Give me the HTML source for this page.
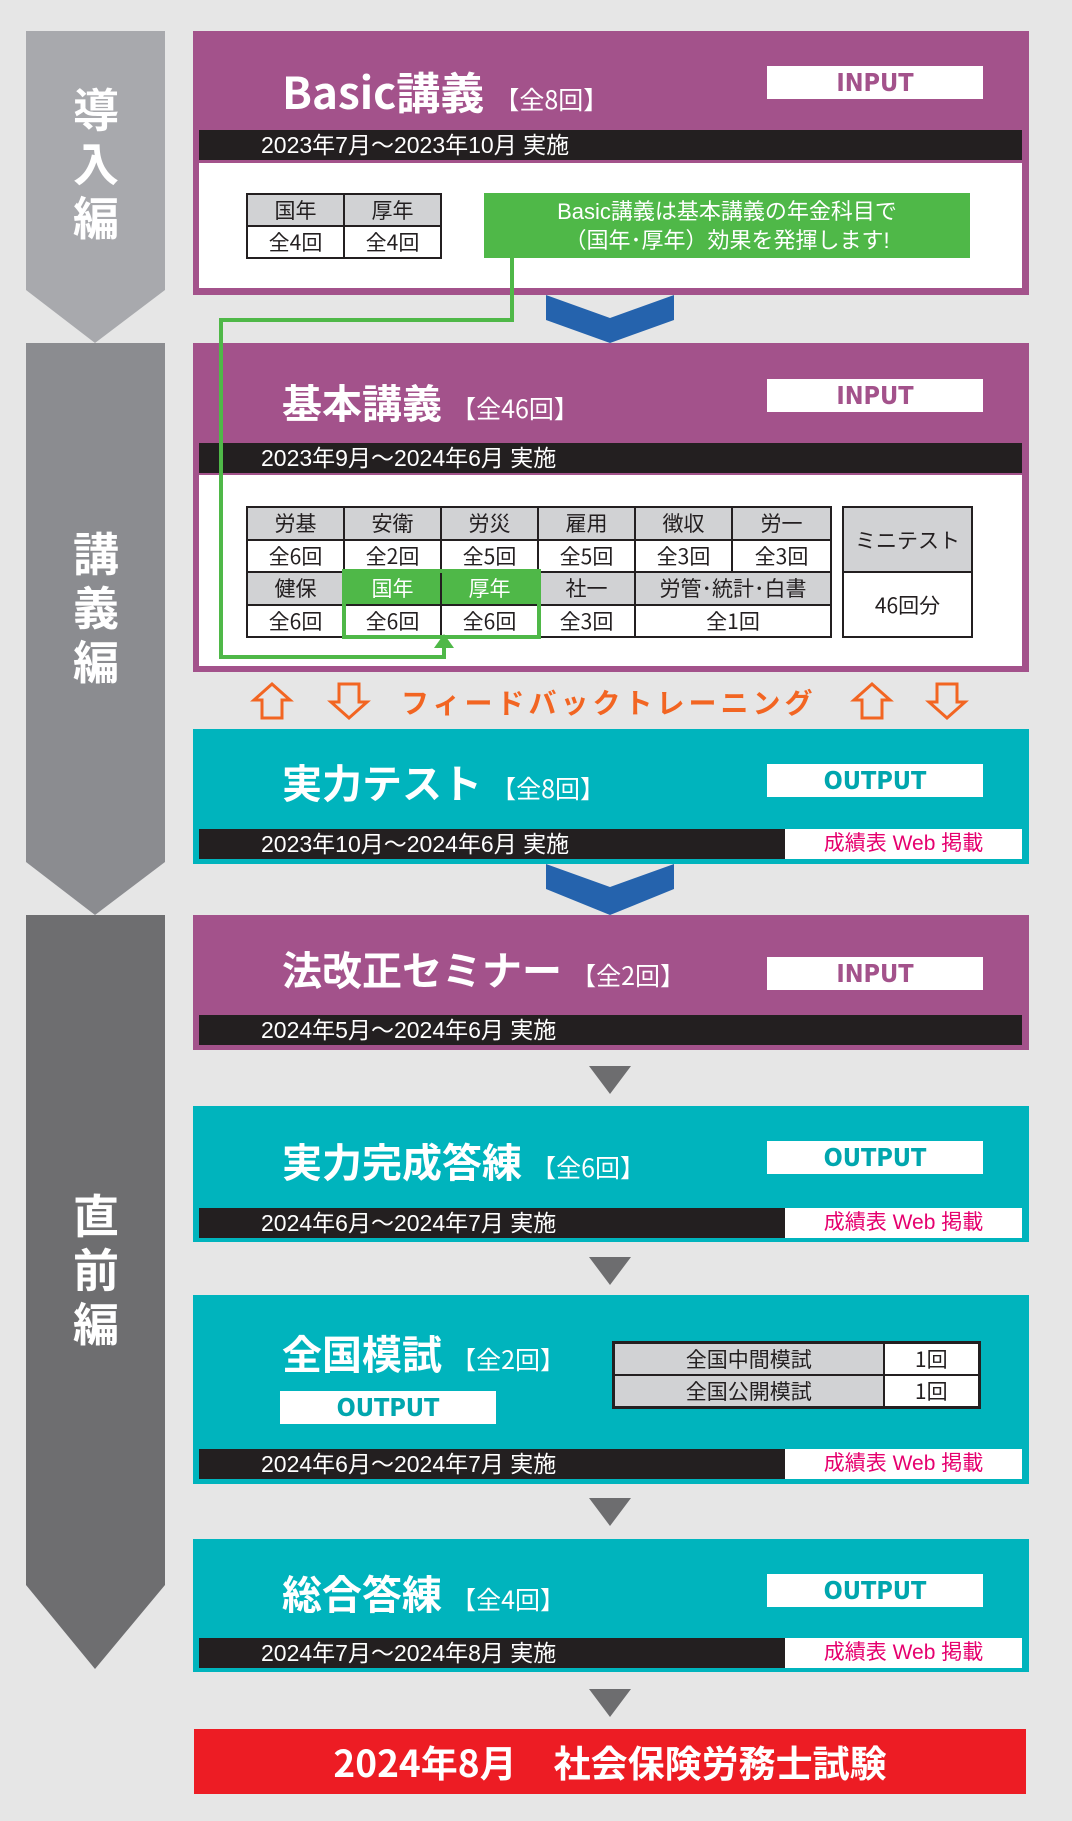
<!DOCTYPE html>
<html><head><meta charset="utf-8"><style>
*{margin:0;padding:0;box-sizing:border-box}
body{width:1072px;height:1821px;background:#e6e6e6;position:relative;overflow:hidden;font-family:"Liberation Sans","Noto Sans CJK JP",sans-serif}
.a{position:absolute}
.box{position:absolute;left:193px;width:836px}
.pur{background:#a3528b}.teal{background:#00b4bd}
.band{position:absolute;left:199px;height:30px;background:#231f20;color:#fff;font-size:23px;line-height:30px;padding-left:62px;white-space:nowrap}
.web{position:absolute;left:785px;width:237px;height:30px;background:#fff;color:#e6006e;font-size:21px;line-height:30px;text-align:center}
.tag{position:absolute;width:216px;height:33px;background:#fff;font-family:"DejaVu Sans Condensed","Liberation Sans",sans-serif;font-weight:bold;font-size:25px;line-height:33px;text-align:center}
.tin{color:#a3528b}.tout{color:#00a6ae}
.title{position:absolute;left:282px;color:#fff;font-weight:bold;font-size:40px;white-space:nowrap;font-family:"Noto Sans CJK JP",sans-serif}
.title small{font-size:25px;font-weight:normal}
.side{position:absolute;left:70px;width:52px;color:#fff;font-weight:bold;font-size:46px;text-align:center;line-height:54px;font-family:"Noto Sans CJK JP",sans-serif}
table{border-collapse:collapse;position:absolute;font-family:"Noto Sans CJK JP",sans-serif;font-size:21px;color:#231f20;table-layout:fixed}
td{border:2px solid #231f20;text-align:center;padding:0}
.g{background:#d1d2d4}
.tri{position:absolute;left:589px;width:0;height:0;border-left:21px solid transparent;border-right:21px solid transparent;border-top:28px solid #6d6d6f}
</style></head><body>
<svg class="a" style="left:0;top:0" width="1072" height="1821">
<polygon points="26,31 165,31 165,290 95,343 26,290" fill="#a8a9ad"/>
<polygon points="26,343 165,343 165,862 95,915 26,862" fill="#8b8c90"/>
<polygon points="26,915 165,915 165,1585 95,1669 26,1585" fill="#6e6e70"/>
<polygon points="546,295 610,318 674,295 674,320 610,343 546,320" fill="#2563ad"/>
<polygon points="546,864 610,887 674,864 674,889 610,915 546,889" fill="#2563ad"/>
</svg>
<div class="side" style="top:81px">導<br>入<br>編</div>
<div class="side" style="top:525px">講<br>義<br>編</div>
<div class="side" style="top:1187px">直<br>前<br>編</div>

<!-- Box1 -->
<div class="box pur" style="top:31px;height:264px"></div>
<div class="a" style="left:199px;top:163px;width:823px;height:125px;background:#fff"></div>
<div class="title" style="top:58px;font-size:44px">Basic講義 <small>【全8回】</small></div>
<div class="tag tin" style="left:767px;top:66px">INPUT</div>
<div class="band" style="top:130px;width:823px">2023年7月～2023年10月 実施</div>
<table style="left:246px;top:193px;width:196px;height:65px"><tr class="g"><td>国年</td><td>厚年</td></tr><tr><td>全4回</td><td>全4回</td></tr></table>
<div class="a" style="left:484px;top:193px;width:486px;height:65px;background:#4fb848;color:#fff;font-size:22px;line-height:29px;text-align:center;padding-top:4px">Basic講義は基本講義の年金科目で<br>（国年･厚年）効果を発揮します!</div>

<!-- Box2 -->
<div class="box pur" style="top:343px;height:329px"></div>
<div class="a" style="left:199px;top:475px;width:823px;height:191px;background:#fff"></div>
<div class="title" style="top:372px">基本講義 <small>【全46回】</small></div>
<div class="tag tin" style="left:767px;top:379px">INPUT</div>
<div class="band" style="top:443px;width:823px">2023年9月～2024年6月 実施</div>
<table style="left:246px;top:506px;width:584px;height:132px">
<colgroup><col style="width:97px"><col style="width:97px"><col style="width:97px"><col style="width:97px"><col style="width:97px"><col style="width:99px"></colgroup>
<tr class="g"><td>労基</td><td>安衛</td><td>労災</td><td>雇用</td><td>徴収</td><td>労一</td></tr>
<tr><td>全6回</td><td>全2回</td><td>全5回</td><td>全5回</td><td>全3回</td><td>全3回</td></tr>
<tr class="g"><td>健保</td><td style="background:#4fb848;color:#fff">国年</td><td style="background:#4fb848;color:#fff">厚年</td><td>社一</td><td colspan="2">労管･統計･白書</td></tr>
<tr><td>全6回</td><td>全6回</td><td>全6回</td><td>全3回</td><td colspan="2">全1回</td></tr></table>
<table style="left:842px;top:506px;width:131px;height:132px"><tr class="g"><td>ミニテスト</td></tr><tr><td>46回分</td></tr></table>
<svg class="a" style="left:0;top:0" width="1072" height="700">
<rect x="344" y="571" width="195" height="66" fill="none" stroke="#4fb848" stroke-width="4"/>
<polyline points="512,258 512,320 221,320 221,657 444,657 444,644" fill="none" stroke="#4fb848" stroke-width="4"/>
<polygon points="434,648 454,648 444,634" fill="#4fb848"/>
</svg>

<!-- feedback -->
<div class="a" style="left:401px;top:682px;color:#f26522;font-weight:bold;font-size:28px;font-family:'Noto Sans CJK JP',sans-serif;white-space:nowrap;letter-spacing:4px">フィードバックトレーニング</div>
<svg class="a" style="left:0;top:680px" width="1072" height="45">
<g fill="none" stroke="#f26522" stroke-width="3">
<path d="M262,38 V20 H254 L272,4 L290,20 H282 V38 Z"/>
<path d="M339,4 V22 H331 L349,38 L367,22 H359 V4 Z"/>
<path d="M862,38 V20 H854 L872,4 L890,20 H882 V38 Z"/>
<path d="M937,4 V22 H929 L947,38 L965,22 H957 V4 Z"/>
</g></svg>

<!-- Box3 -->
<div class="box teal" style="top:729px;height:135px"></div>
<div class="title" style="top:752px">実力テスト <small>【全8回】</small></div>
<div class="tag tout" style="left:767px;top:764px">OUTPUT</div>
<div class="band" style="top:829px;width:586px">2023年10月～2024年6月 実施</div>
<div class="web" style="top:829px">成績表 Web 掲載</div>

<!-- Box4 -->
<div class="box pur" style="top:915px;height:135px"></div>
<div class="title" style="top:939px">法改正セミナー <small>【全2回】</small></div>
<div class="tag tin" style="left:767px;top:957px">INPUT</div>
<div class="band" style="top:1015px;width:823px">2024年5月～2024年6月 実施</div>
<div class="tri" style="top:1066px"></div>

<!-- Box5 -->
<div class="box teal" style="top:1106px;height:136px"></div>
<div class="title" style="top:1131px">実力完成答練 <small>【全6回】</small></div>
<div class="tag tout" style="left:767px;top:1141px">OUTPUT</div>
<div class="band" style="top:1208px;width:586px">2024年6月～2024年7月 実施</div>
<div class="web" style="top:1208px">成績表 Web 掲載</div>
<div class="tri" style="top:1257px"></div>

<!-- Box6 -->
<div class="box teal" style="top:1295px;height:189px"></div>
<div class="title" style="top:1323px">全国模試 <small>【全2回】</small></div>
<div class="tag tout" style="left:280px;top:1391px">OUTPUT</div>
<table style="left:612px;top:1341px;width:369px;height:67px;border:3px solid #231f20"><tr><td class="g" style="width:270px">全国中間模試</td><td style="background:#fff">1回</td></tr><tr><td class="g">全国公開模試</td><td style="background:#fff">1回</td></tr></table>
<div class="band" style="top:1449px;width:586px">2024年6月～2024年7月 実施</div>
<div class="web" style="top:1449px">成績表 Web 掲載</div>
<div class="tri" style="top:1498px"></div>

<!-- Box7 -->
<div class="box teal" style="top:1539px;height:133px"></div>
<div class="title" style="top:1563px">総合答練 <small>【全4回】</small></div>
<div class="tag tout" style="left:767px;top:1574px">OUTPUT</div>
<div class="band" style="top:1638px;width:586px">2024年7月～2024年8月 実施</div>
<div class="web" style="top:1638px">成績表 Web 掲載</div>
<div class="tri" style="top:1689px"></div>

<div class="a" style="left:194px;top:1729px;width:832px;height:65px;background:#ed1c24;color:#fff;font-weight:bold;font-size:37px;line-height:65px;text-align:center;font-family:'Noto Sans CJK JP',sans-serif">2024年8月　社会保険労務士試験</div>
</body></html>
